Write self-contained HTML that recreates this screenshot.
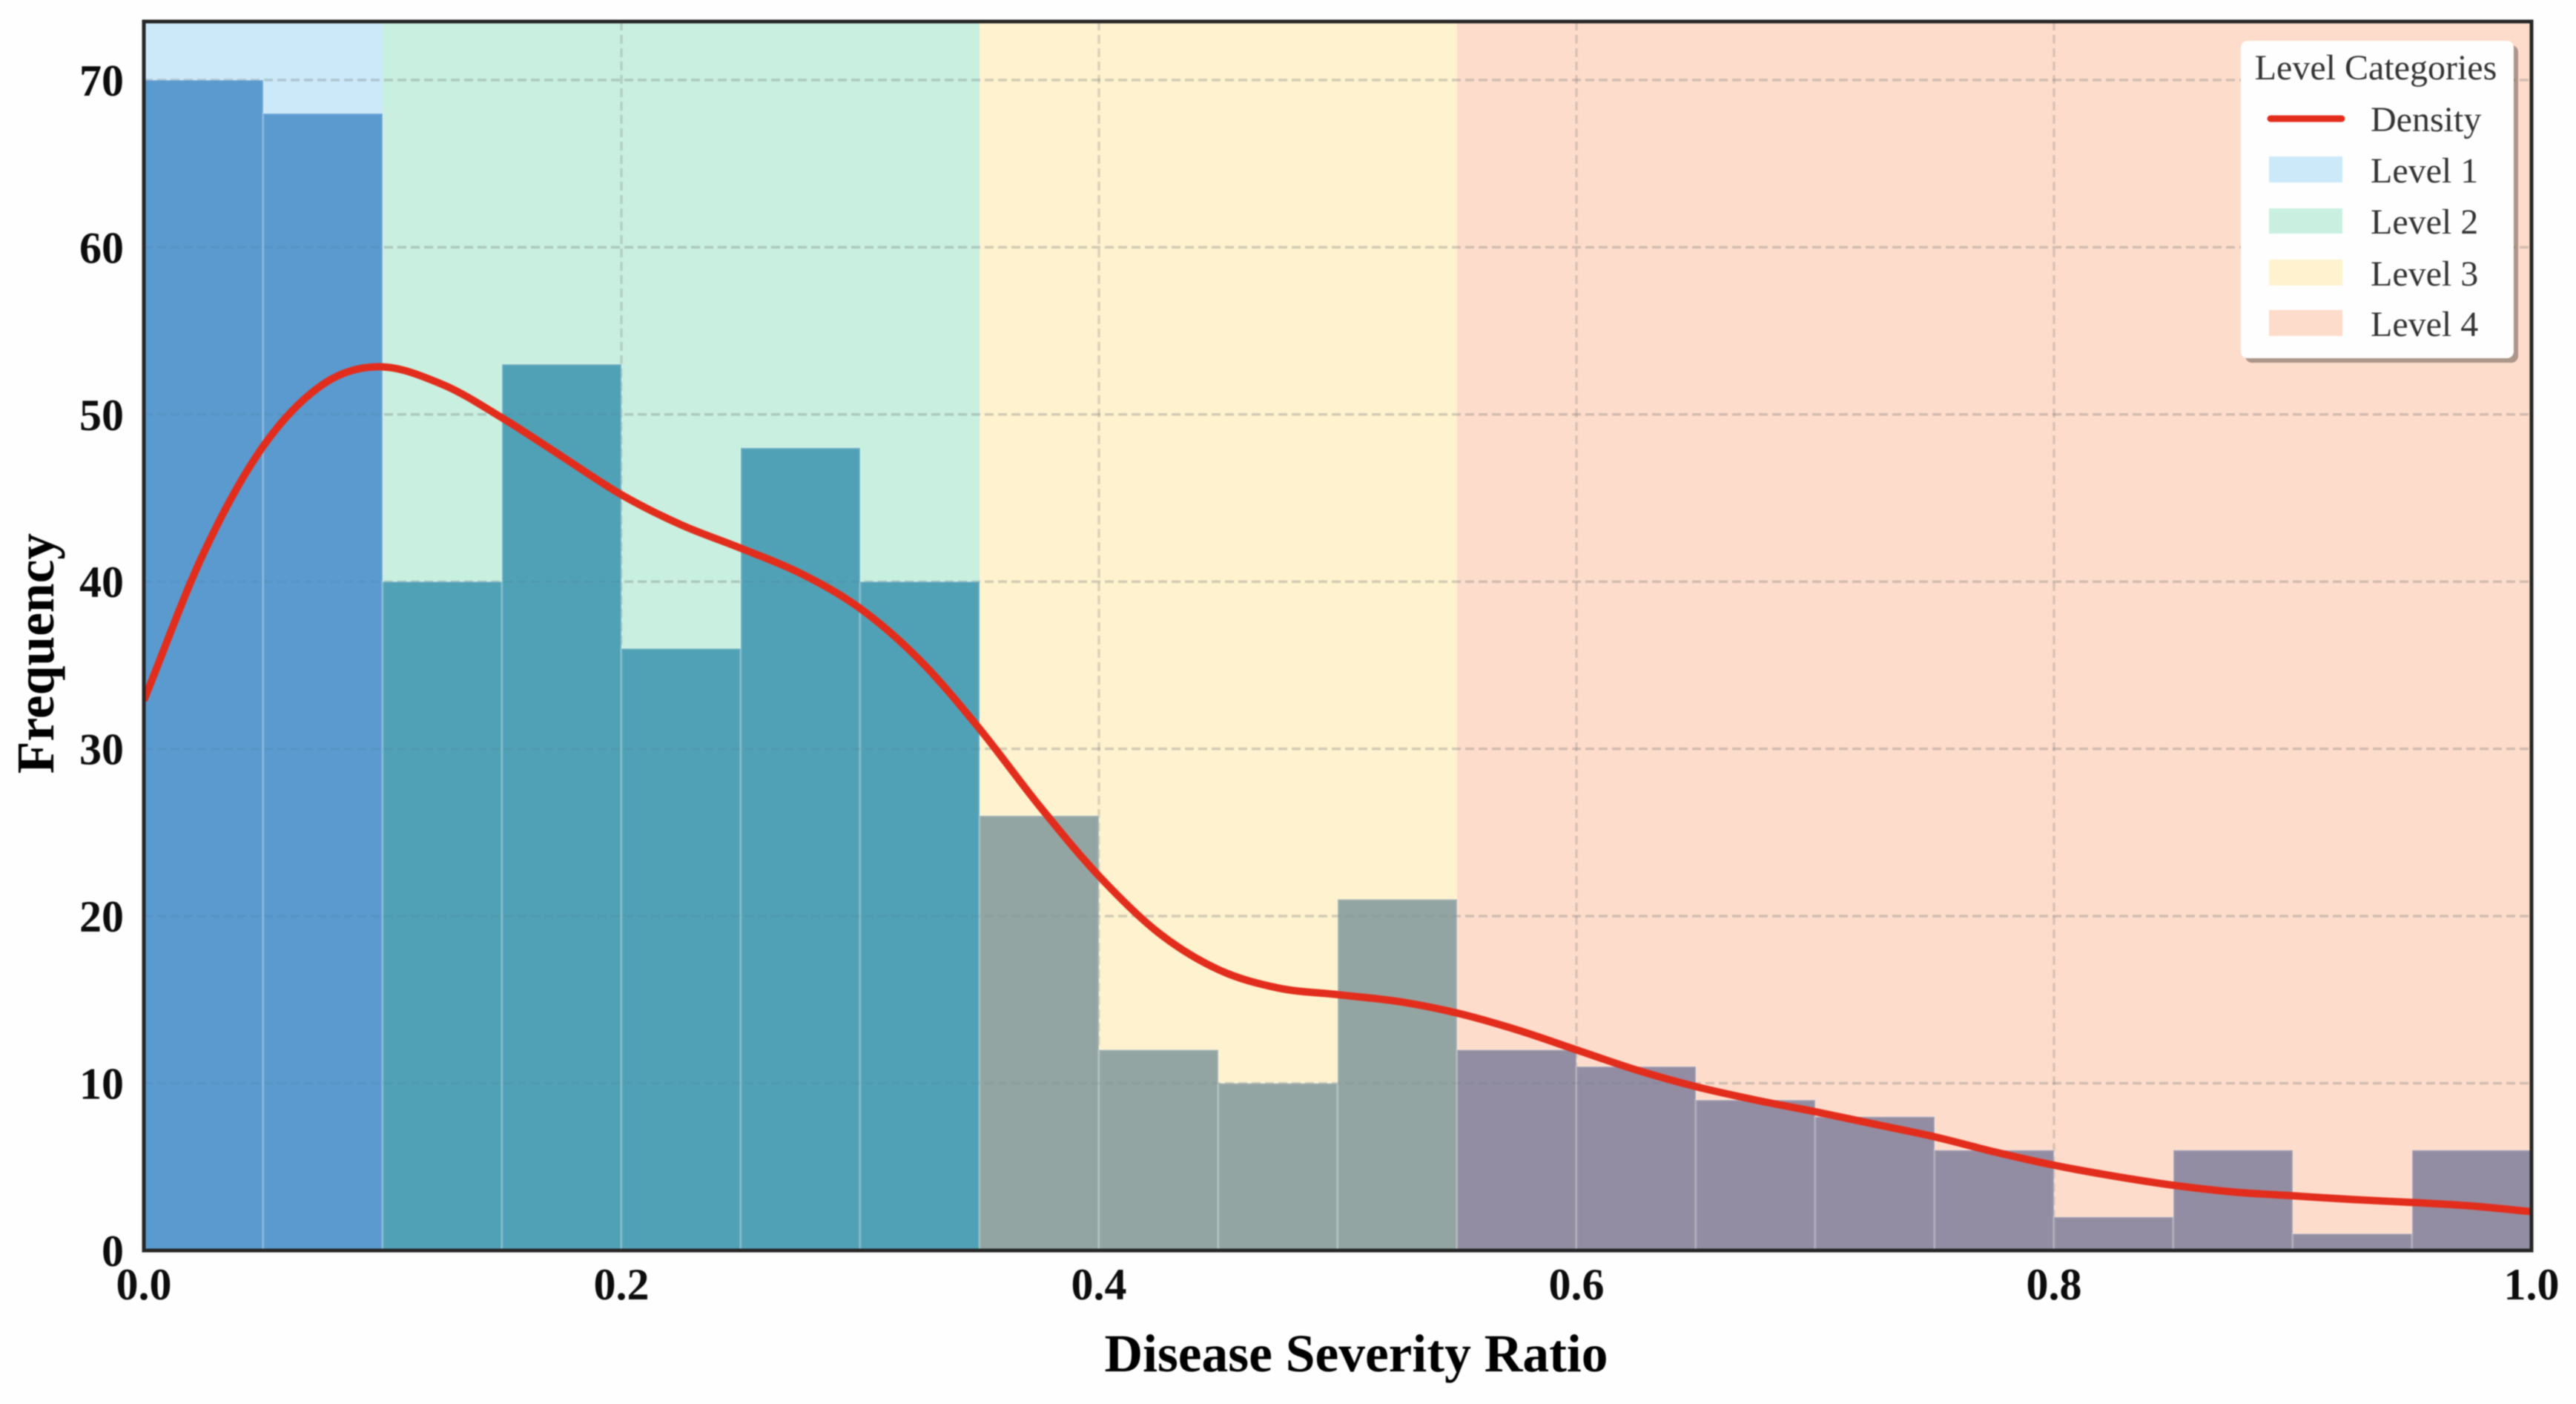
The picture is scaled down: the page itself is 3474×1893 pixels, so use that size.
<!DOCTYPE html>
<html lang="en">
<head>
<meta charset="utf-8">
<title>Disease Severity Ratio Histogram</title>
<style>
html,body{margin:0;padding:0;background:#fefefe;}
body{width:3474px;height:1893px;overflow:hidden;}
svg{display:block;filter:blur(0.9px);}
text{font-family:"Liberation Serif","DejaVu Serif",serif;}
.tick{font-size:60px;font-weight:bold;fill:#0c0c0c;}
.title{font-size:71.5px;font-weight:bold;fill:#000;}
.leg{font-size:48px;fill:#333;}
</style>
</head>
<body>
<svg id="chart" xmlns="http://www.w3.org/2000/svg" width="3474" height="1893" viewBox="0 0 3474 1893">
  <defs>
    <clipPath id="plot-clip"><rect x="194" y="29" width="3220" height="1657"/></clipPath>
  </defs>
  <g id="bands"></g>
  <g id="grid"></g>
  <g id="bars"></g>
  <g id="gridover"></g>
  <path id="density" fill="none" stroke="#e32d1c" stroke-width="10" stroke-linejoin="round" clip-path="url(#plot-clip)"/>
  <rect x="194" y="29" width="3220" height="1657" fill="none" stroke="#262626" stroke-width="5"/>
  <g id="xticks"></g>
  <g id="yticks"></g>
  <text class="title" x="1829" y="1849" text-anchor="middle">Disease Severity Ratio</text>
  <text class="title" transform="translate(72,881) rotate(-90)" text-anchor="middle">Frequency</text>
  <g>
    <rect x="3028" y="61" width="368" height="428" rx="9" fill="#000" fill-opacity="0.32"/>
    <rect x="3022" y="55" width="368" height="428" rx="9" fill="#fefefe"/>
    <text class="leg" x="3204" y="107" text-anchor="middle">Level Categories</text>
    <g>
      <line x1="3062" x2="3158" y1="160" y2="160" stroke="#e32d1c" stroke-width="9" stroke-linecap="round"/>
      <text class="leg" x="3197" y="177">Density</text>
    </g>
    <g>
      <rect x="3060" y="211" width="99" height="35" fill="#cbe9f8"/>
      <text class="leg" x="3197" y="246">Level 1</text>
    </g>
    <g>
      <rect x="3060" y="281" width="99" height="34" fill="#c8efdf"/>
      <text class="leg" x="3197" y="315">Level 2</text>
    </g>
    <g>
      <rect x="3060" y="350" width="99" height="35" fill="#fef2cf"/>
      <text class="leg" x="3197" y="385">Level 3</text>
    </g>
    <g>
      <rect x="3060" y="418" width="99" height="35" fill="#fedccb"/>
      <text class="leg" x="3197" y="453">Level 4</text>
    </g>
  </g>
</svg>
<script>
const binCounts = [70, 68, 40, 53, 36, 48, 40, 26, 12, 10, 21, 12, 11, 9, 8, 6, 2, 6, 1, 6];
const binWidth = 0.05;
const levelEdges = [0, 0.1, 0.35, 0.55, 1];
const levelColors = ['#cbe9f8', '#c8efdf', '#fef2cf', '#fedccb'];
const barColors = ['#5a9acf', '#51a1b6', '#93a5a3', '#928da2'];
const xTickValues = [0, 0.2, 0.4, 0.6, 0.8, 1];
const xTickLabels = ['0.0', '0.2', '0.4', '0.6', '0.8', '1.0'];
const yTickValues = [0, 10, 20, 30, 40, 50, 60, 70];
const densityX = [0, .025, .05, .075, .0985, .125, .15, .175, .2, .225, .25, .275, .3, .325, .35, .375, .4, .425, .45, .475, .5, .525, .55, .575, .6, .625, .65, .675, .7, .725, .75, .775, .8, .825, .85, .875, .9, .925, .95, .975, 1];
const densityY = [32.9, 41.7, 48.1, 51.8, 52.85, 51.8, 49.8, 47.5, 45.2, 43.4, 42.0, 40.5, 38.4, 35.3, 31.2, 26.6, 22.4, 19.0, 16.8, 15.7, 15.3, 14.9, 14.2, 13.2, 12.0, 10.8, 9.8, 9.0, 8.3, 7.55, 6.8, 5.9, 5.1, 4.45, 3.9, 3.5, 3.27, 3.05, 2.87, 2.66, 2.32];

const NS = 'http://www.w3.org/2000/svg';
const plot = { left: 194, right: 3414, top: 29, bottom: 1686 };
const xMax = 1;
const yMax = 73.5;
function xScale(v) { return plot.left + (v / xMax) * (plot.right - plot.left); }
function yScale(v) { return plot.bottom - (v / yMax) * (plot.bottom - plot.top); }
function make(tag, parentId) {
  const el = document.createElementNS(NS, tag);
  document.getElementById(parentId).appendChild(el);
  return el;
}
function levelOf(x) {
  for (let i = 0; i < levelColors.length; i++) {
    if (x >= levelEdges[i] - 1e-9 && x < levelEdges[i + 1] - 1e-9) return i;
  }
  return levelColors.length - 1;
}

levelColors.forEach(function (color, i) {
  const el = make('rect', 'bands');
  
  
  el.setAttribute('x', xScale(levelEdges[i]));
  el.setAttribute('y', plot.top);
  el.setAttribute('width', xScale(levelEdges[i + 1]) - xScale(levelEdges[i]));
  el.setAttribute('height', plot.bottom - plot.top);
  el.setAttribute('fill', color);
});

binCounts.forEach(function (count, i) {
  const x0 = i * binWidth;
  const el = make('rect', 'bars');
  
  
  el.setAttribute('x', xScale(x0));
  el.setAttribute('y', yScale(count));
  el.setAttribute('width', xScale(x0 + binWidth) - xScale(x0));
  el.setAttribute('height', plot.bottom - yScale(count));
  el.setAttribute('fill', barColors[levelOf(x0)]);
  el.setAttribute('stroke', 'rgba(255,255,255,0.2)');
  el.setAttribute('stroke-width', '3');
});

yTickValues.forEach(function (v) {
  if (v !== 0) {
    const line = make('line', 'grid');
    
    
    line.setAttribute('x1', plot.left);
    line.setAttribute('x2', plot.right);
    line.setAttribute('y1', yScale(v));
    line.setAttribute('y2', yScale(v));
    line.setAttribute('stroke', 'rgba(110,110,110,0.2)');
    line.setAttribute('stroke-width', '3.5');
    line.setAttribute('stroke-dasharray', '12 6');
    const over = make('line', 'gridover');
    
    
    over.setAttribute('x1', plot.left);
    over.setAttribute('x2', plot.right);
    over.setAttribute('y1', yScale(v));
    over.setAttribute('y2', yScale(v));
    over.setAttribute('stroke', 'rgba(70,90,100,0.09)');
    over.setAttribute('stroke-width', '3.5');
    over.setAttribute('stroke-dasharray', '12 6');
  }
  const label = make('text', 'yticks');
  
  
  label.setAttribute('class', 'tick');
  label.setAttribute('x', plot.left - 27);
  label.setAttribute('y', yScale(v) + 21);
  label.setAttribute('text-anchor', 'end');
  label.textContent = String(v);
});

xTickValues.forEach(function (v, i) {
  if (v !== 0 && v !== xMax) {
    const line = make('line', 'grid');
    
    
    line.setAttribute('x1', xScale(v));
    line.setAttribute('x2', xScale(v));
    line.setAttribute('y1', plot.top);
    line.setAttribute('y2', plot.bottom);
    line.setAttribute('stroke', 'rgba(110,110,110,0.25)');
    line.setAttribute('stroke-width', '3.5');
    line.setAttribute('stroke-dasharray', '12 6');
  }
  const label = make('text', 'xticks');
  
  
  label.setAttribute('class', 'tick');
  label.setAttribute('x', xScale(v));
  label.setAttribute('y', 1752);
  label.setAttribute('text-anchor', 'middle');
  label.textContent = xTickLabels[i];
});

(function drawDensity() {
  const pts = densityX.map(function (x, i) { return [xScale(x), yScale(densityY[i])]; });
  let d = 'M' + pts[0][0].toFixed(2) + ' ' + pts[0][1].toFixed(2);
  for (let i = 0; i < pts.length - 1; i++) {
    const p0 = pts[Math.max(0, i - 1)];
    const p1 = pts[i];
    const p2 = pts[i + 1];
    const p3 = pts[Math.min(pts.length - 1, i + 2)];
    const h = p2[0] - p1[0];
    const m1 = (p2[1] - p0[1]) / (p2[0] - p0[0]);
    const m2 = (p3[1] - p1[1]) / (p3[0] - p1[0]);
    d += 'C' + (p1[0] + h / 3).toFixed(2) + ' ' + (p1[1] + m1 * h / 3).toFixed(2) + ' ' +
         (p2[0] - h / 3).toFixed(2) + ' ' + (p2[1] - m2 * h / 3).toFixed(2) + ' ' +
         p2[0].toFixed(2) + ' ' + p2[1].toFixed(2);
  }
  document.getElementById('density').setAttribute('d', d);
})();
</script>
</body>
</html>
